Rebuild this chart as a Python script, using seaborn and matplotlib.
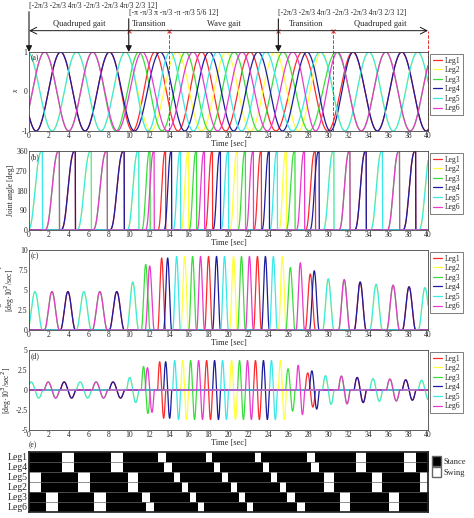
import numpy as np
import pandas as pd
import matplotlib
matplotlib.use("Agg")
import matplotlib.pyplot as plt
import seaborn as sns
from matplotlib.patches import Patch

sns.set_theme(style="white")
plt.rcParams['font.family'] = ['Liberation Serif', 'DejaVu Serif']

legs = ["Leg1", "Leg2", "Leg3", "Leg4", "Leg5", "Leg6"]
colors = {"Leg1": "#ff2a2a", "Leg2": "#ffff3a", "Leg3": "#3ade3a",
          "Leg4": "#1c1c9c", "Leg5": "#3ae8e8", "Leg6": "#e83acc"}
# swing (peak velocity) times [sec] and peak angular velocity [deg*10^2/sec]
swing_t = {
    "Leg1": [3.9, 8.8, 13.3, 18.0, 22.9, 28.2, 33.2, 38.1],
    "Leg2": [0.6, 5.5, 10.4, 15.6, 20.5, 25.4, 30.0, 34.8, 39.7],
    "Leg3": [2.3, 7.1, 11.7, 16.4, 21.3, 26.2, 31.6, 36.5],
    "Leg4": [3.9, 8.8, 13.9, 18.8, 23.7, 28.6, 33.2, 38.1],
    "Leg5": [0.6, 5.5, 10.4, 14.8, 19.6, 24.5, 30.0, 34.8, 39.7],
    "Leg6": [2.3, 7.1, 12.1, 17.2, 22.1, 27.2, 31.6, 36.5],
}
swing_v = {
    "Leg1": [4.8, 4.8, 9.0, 9.2, 9.2, 7.0, 6.0, 5.4],
    "Leg2": [4.8, 4.8, 6.0, 9.2, 9.2, 9.2, 6.4, 5.7, 5.3],
    "Leg3": [4.8, 4.8, 8.2, 9.2, 9.2, 7.8, 6.3, 5.6],
    "Leg4": [4.8, 4.8, 9.0, 9.2, 9.2, 7.4, 6.0, 5.4],
    "Leg5": [4.8, 4.8, 6.0, 9.2, 9.2, 9.2, 6.4, 5.7, 5.3],
    "Leg6": [4.8, 4.8, 8.0, 9.2, 9.2, 8.4, 6.3, 5.6],
}
gait_rows = ["Leg1", "Leg4", "Leg5", "Leg2", "Leg3", "Leg6"]
phase_labels = ["Quadruped gait", "Transition", "Wave gait", "Transition", "Quadruped gait"]
phase_bounds = [0, 10, 14, 25, 30.5, 40]
param_texts = ["[-2π/3 -2π/3 4π/3 -2π/3 -2π/3 4π/3 2/3 12]",
               "[-π -π/3 π -π/3 -π -π/3 5/6 12]",
               "[-2π/3 -2π/3 4π/3 -2π/3 -2π/3 4π/3 2/3 12]"]
param_t = [0, 10, 25]

t = np.linspace(0, 40, 4001)
rows = []
gait = {}
for leg in legs:
    ts = np.array(swing_t[leg]); vs = np.array(swing_v[leg])
    vel = np.zeros_like(t); ang = np.zeros_like(t); acc = np.zeros_like(t)
    for tp, A in zip(ts, vs):
        w = 7.2 / A
        m = np.abs(t - tp) < w / 2
        u = t[m] - (tp - w / 2)
        vel[m] += A * np.cos(np.pi * (t[m] - tp) / w) ** 2
        ang[m] = 360 * (u / w - np.sin(2 * np.pi * u / w) / (2 * np.pi))
        acc[m] += -A * 100 * np.pi / w * np.sin(2 * np.pi * (t[m] - tp) / w) / 1000
    ext = np.concatenate([[ts[0] - 4.9], ts, [ts[-1] + 4.9]])
    ph = np.interp(t, ext, 2 * np.pi * np.arange(len(ext)))
    x = np.cos(ph + 2 * np.pi * 0.15)
    gait[leg] = (vel > 0.3).astype(int)
    rows.append(pd.DataFrame({"t": t, "x": x, "ang": ang, "vel": vel, "acc": acc, "leg": leg}))
df = pd.concat(rows)

fig = plt.figure(figsize=(4.74, 5.18), dpi=100)
L, W = 29 / 474, 399 / 474
def axrect(top, bot):
    return [L, 1 - bot / 518, W, (bot - top) / 518]

specs = [("x", (52, 131), (-1, 1), [-1, 0, 1], "x", "(a)"),
         ("ang", (151, 230), (0, 360), [0, 90, 180, 270, 360], "Joint angle [deg]", "(b)"),
         ("vel", (250, 330), (0, 10), [0, 2.5, 5, 7.5, 10], "Angular velocity\n[deg·10$^2$/sec]", "(c)"),
         ("acc", (350, 430), (-5, 5), [-5, -2.5, 0, 2.5, 5], "Angular acceleration\n[deg·10$^3$/sec$^2$]", "(d)")]
axes = []
for col, (tp, bt), yl, yt, ylab, tag in specs:
    ax = fig.add_axes(axrect(tp, bt))
    sns.lineplot(data=df, x="t", y=col, hue="leg", palette=colors, hue_order=legs,
                 estimator=None, lw=0.9, ax=ax, sort=False)
    ax.set_xlim(0, 40); ax.set_ylim(*yl)
    ax.set_xticks(range(0, 41, 2)); ax.set_yticks(yt)
    ax.set_yticklabels([f"{v:g}" for v in yt])
    ax.tick_params(labelsize=5.5, length=2, pad=1, direction="in")
    ax.set_xlabel("Time [sec]", fontsize=6, labelpad=0)
    ax.set_ylabel(ylab, fontsize=5.5, labelpad=1, linespacing=1.0,
                  style="italic" if col == "x" else "normal")
    ax.text(0.005, 0.97, tag, transform=ax.transAxes, fontsize=5.5, va="top")
    for s in ax.spines.values():
        s.set_color("#444"); s.set_linewidth(0.6)
    leg_ = ax.legend(loc="upper left", bbox_to_anchor=(1.0, 1.0), fontsize=5.5, frameon=True,
                     handlelength=1.2, borderpad=0.3, labelspacing=0.2, fancybox=False,
                     handletextpad=0.4, borderaxespad=0.3)
    leg_.get_frame().set_edgecolor("#444"); leg_.get_frame().set_linewidth(0.6)
    axes.append(ax)

axa = axes[0]
tr = axa.get_xaxis_transform()
for xv in [14, 30.5, 40]:
    axa.plot([xv, xv], [-0.0, 1.27], transform=tr, color="#e03030", ls="--", lw=0.7, clip_on=False)
axa.annotate("", xy=(0, 1.27), xytext=(40, 1.27), xycoords=tr, textcoords=tr,
             arrowprops=dict(arrowstyle="<->", lw=0.7, color="k", shrinkA=0, shrinkB=0))
for b in phase_bounds[1:-1]:
    axa.plot([b], [1.27], transform=tr, marker="x", ms=3, color="#e03030", mew=0.7, clip_on=False)
for i, lab in enumerate(phase_labels):
    axa.text((phase_bounds[i] + phase_bounds[i + 1]) / 2, 1.3, lab, transform=tr,
             ha="center", va="bottom", fontsize=6)
for i, (tx, ptxt) in enumerate(zip(param_t, param_texts)):
    ytop = 1.51 if i == 0 else 1.42
    axa.annotate("", xy=(tx, 1.0), xytext=(tx, ytop), xycoords=tr, textcoords=tr,
                 arrowprops=dict(arrowstyle="-|>", lw=0.8, color="k", mutation_scale=9,
                                 shrinkA=0, shrinkB=0))
    axa.text(tx, ytop + 0.02, ptxt, transform=tr, fontsize=5.5, ha="left", va="bottom")

axe = fig.add_axes(axrect(452, 512))
G = np.array([1 - gait[l] for l in gait_rows])
axe.imshow(G, aspect="auto", cmap="gray_r", extent=[0, 40, len(gait_rows), 0],
           interpolation="nearest", vmin=0, vmax=1)
for yv in range(1, 6):
    axe.axhline(yv, color="#666", lw=0.5)
axe.set_xticks([])
axe.set_yticks(np.arange(6) + 0.5)
axe.set_yticklabels(gait_rows, fontsize=7)
axe.tick_params(length=0, pad=1)
axe.grid(False)
axe.text(0.0, 1.04, "(e)", transform=axe.transAxes, fontsize=5.5, va="bottom")
lg = axe.legend(handles=[Patch(facecolor="black", edgecolor="#666", label="Stance"),
                         Patch(facecolor="white", edgecolor="#666", label="Swing")],
                loc="upper left", bbox_to_anchor=(1.0, 1.0), fontsize=6, frameon=False,
                handlelength=1.1, handleheight=1.5, borderaxespad=0.1, labelspacing=0.1,
                handletextpad=0.3)
fig.savefig("out.png", dpi=100)
